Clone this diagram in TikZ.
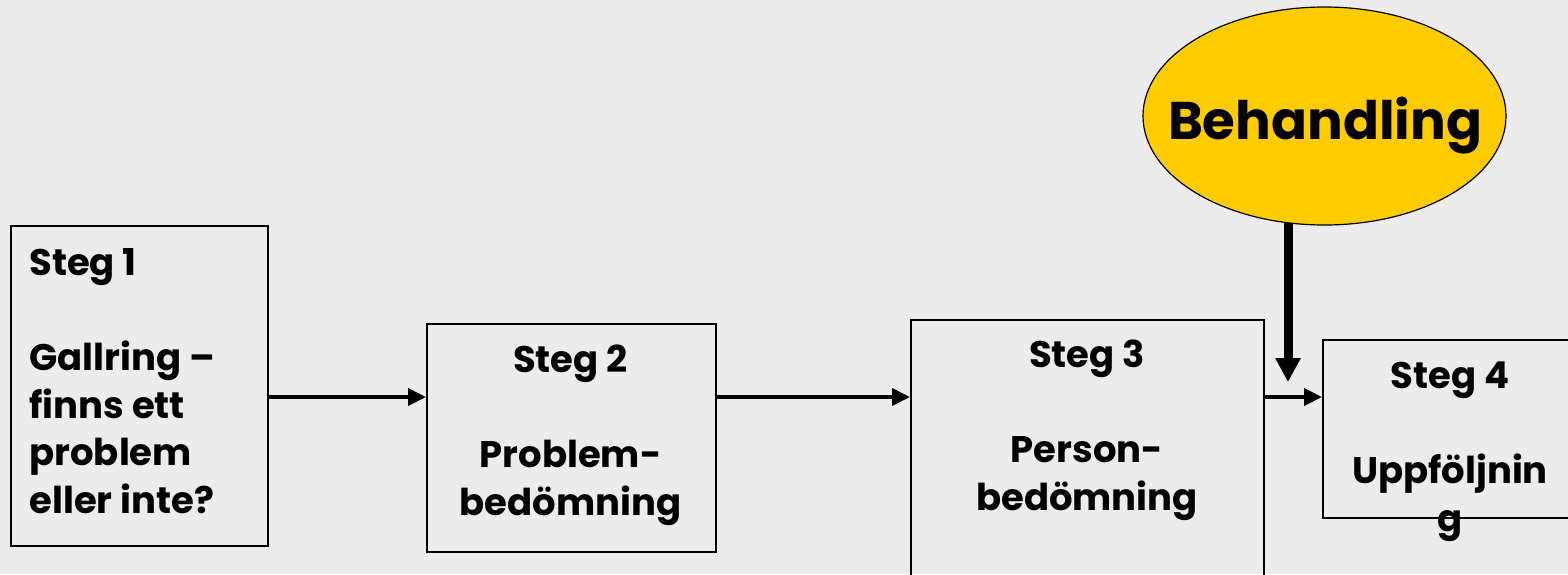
\documentclass[tikz,border=0pt]{standalone}
\usepackage{fontspec}
\setmainfont{Poppins}
\usetikzlibrary{arrows.meta,shapes.geometric}
\definecolor{slidegray}{RGB}{236,236,236}
\definecolor{gold}{RGB}{255,204,0}
\tikzstyle{stepbox}=[rectangle, draw, line width=0.75pt, inner sep=0pt, anchor=north west]
\tikzstyle{steptext}=[font=\bfseries\fontsize{18.5}{23.75}\selectfont, inner sep=0pt, align=center, anchor=base]
\newcommand{\stepbox}{\node[stepbox]}
\newcommand{\steptext}{\node[steptext]}

\begin{document}
\begin{tikzpicture}[x=0.5pt, y=-0.5pt
    ,every edge/.style={
        draw, line width=2pt,
        -{Triangle[length=9pt,width=8.5pt]} }
    ,bigarrow/.style={
        draw, line width=4.5pt,
        -{Triangle[length=12pt,width=12pt]} }
]
\useasboundingbox (0,0) rectangle (1568,574);
\fill[slidegray] (0,0) rectangle (1568,574);
\clip (0,0) rectangle (1568,574);
\stepbox[minimum width=128.5pt, minimum height=160pt] (steg1) at (10, 225) {};
\stepbox[minimum width=144.5pt, minimum height=114pt] (steg2) at (426, 323) {};
\stepbox[minimum width=176.5pt, minimum height=150pt] (steg3) at (910, 319) {};
\stepbox[minimum width=150pt, minimum height=89pt] (steg4) at (1322, 339) {};
\node[ellipse, draw, line width=0.6pt, fill=gold, inner sep=0pt,
      minimum width=181.5pt, minimum height=109pt] (behandling) at (1324.5, 116) {};
% base anchor sits on the last line
\steptext[anchor=base west, align=left] (text1) at (29, 513)
    {Steg 1\\[23.75pt]Gallring –\\finns ett\\problem\\eller inte?};
\steptext (text2) at (570.5, 515) {Steg 2\\[23.75pt]Problem-\\bedömning};
\steptext (text3) at (1087, 510) {Steg 3\\[23.75pt]Person-\\bedömning};
\steptext (text4) at (1450, 531) {Steg 4\\[23.75pt]Uppföljnin\\g};
\node[font=\bfseries\fontsize{26.5}{32}\selectfont, inner sep=0pt, anchor=base]
    (behandlingtext) at (1325, 139) {Behandling};
\coordinate (flow) at (0, 397);
\coordinate (drop) at (1288, 382);
\path
(steg1.east |- flow) edge (steg2.west |- flow)
(steg2.east |- flow) edge (steg3.west |- flow)
(steg3.east |- flow) edge (steg4.west |- flow)
([yshift=1.5pt]drop |- behandling.south) edge[bigarrow] (drop)
;
\end{tikzpicture}
\end{document}
